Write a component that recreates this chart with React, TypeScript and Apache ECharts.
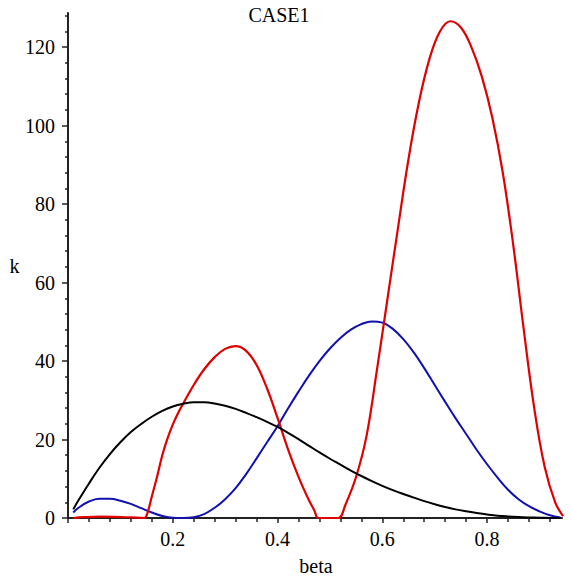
import React, { useEffect, useRef } from "react";
import * as echarts from "echarts";

// ---- data ----
const betaBlack = [0.01, 0.02, 0.04, 0.06, 0.08, 0.10, 0.12, 0.14, 0.16, 0.18, 0.20, 0.22, 0.24, 0.26, 0.28, 0.30, 0.32, 0.34, 0.36, 0.38, 0.40, 0.42, 0.44, 0.46, 0.48, 0.50, 0.52, 0.54, 0.56, 0.58, 0.60, 0.62, 0.64, 0.66, 0.68, 0.70, 0.72, 0.74, 0.76, 0.78, 0.80, 0.82, 0.84, 0.86, 0.88, 0.90, 0.92, 0.94];
const kBlack = [2.2, 4.5, 8.8, 12.8, 16.3, 19.3, 21.9, 24.0, 25.8, 27.3, 28.4, 29.1, 29.5, 29.5, 29.2, 28.6, 27.8, 26.8, 25.7, 24.5, 23.2, 21.7, 20.1, 18.4, 16.7, 15.1, 13.6, 12.1, 10.7, 9.4, 8.2, 7.1, 6.1, 5.2, 4.3, 3.5, 2.8, 2.2, 1.7, 1.25, 0.9, 0.6, 0.4, 0.25, 0.15, 0.08, 0.03, 0];

const betaBlue = [0.01, 0.02, 0.04, 0.06, 0.08, 0.10, 0.12, 0.14, 0.16, 0.18, 0.20, 0.22, 0.24, 0.26, 0.28, 0.30, 0.32, 0.34, 0.36, 0.38, 0.40, 0.42, 0.44, 0.46, 0.48, 0.50, 0.52, 0.54, 0.56, 0.58, 0.60, 0.62, 0.64, 0.66, 0.68, 0.70, 0.72, 0.74, 0.76, 0.78, 0.80, 0.82, 0.84, 0.86, 0.88, 0.90, 0.92, 0.94];
const kBlue = [1.4, 2.6, 4.2, 4.9, 4.9, 4.4, 3.6, 2.5, 1.4, 0.5, 0.05, 0, 0.2, 1.0, 2.6, 4.8, 7.6, 11.2, 15.2, 19.3, 23.4, 27.9, 32.2, 36.3, 40.0, 43.2, 45.9, 48.0, 49.4, 50.1, 49.8, 48.2, 45.6, 42.2, 38.2, 33.9, 29.6, 25.4, 21.4, 17.4, 13.7, 10.3, 7.2, 4.8, 3.0, 1.7, 0.7, 0.1];

const betaRed = [0.01, 0.03, 0.06, 0.09, 0.12, 0.145, 0.15, 0.16, 0.17, 0.18, 0.19, 0.20, 0.21, 0.22, 0.24, 0.26, 0.28, 0.30, 0.32, 0.34, 0.36, 0.38, 0.40, 0.42, 0.44, 0.46, 0.47, 0.478, 0.50, 0.516, 0.53, 0.55, 0.57, 0.59, 0.61, 0.63, 0.65, 0.67, 0.69, 0.71, 0.73, 0.75, 0.77, 0.79, 0.81, 0.83, 0.85, 0.87, 0.89, 0.91, 0.93, 0.945];
const kRed = [0, 0.2, 0.35, 0.3, 0.15, 0, 0.6, 5.5, 10.5, 16.0, 20.3, 23.8, 26.7, 29.2, 33.9, 37.9, 41.0, 43.1, 43.8, 42.6, 39.0, 33.0, 25.5, 17.5, 10.5, 4.5, 2.0, 0, 0, 0, 3.5, 10.5, 21, 38, 56, 74, 91.5, 106, 117, 124, 126.6, 125, 120, 112.5, 102, 88, 69.5, 48, 28, 13, 4, 0.5];

const yTickValues = [0, 20, 40, 60, 80, 100, 120];
const xTickValues = [0, 0.2, 0.4, 0.6, 0.8];
const xLabelValues = [0.2, 0.4, 0.6, 0.8];
const titleText = "CASE1";
const xName = "beta";
const yName = "k";

const pairs = (xs: number[], ys: number[]) => xs.map((x, i) => [x, ys[i]]);

export default function App() {
  const ref = useRef<HTMLDivElement>(null);
  useEffect(() => {
    document.body.style.margin = "0";
    const chart = echarts.init(ref.current!, null, { renderer: "svg" });
    const font = "'Liberation Serif', 'Times New Roman', serif";
    const axisColor = "#222";
    chart.setOption({
      animation: false,
      backgroundColor: "#fff",
      grid: { left: 68, right: 9, top: 13, bottom: 61, containLabel: false },
      xAxis: {
        type: "value",
        min: 0,
        max: 0.943,
        interval: 0.2,
        axisLine: { show: true, onZero: false, lineStyle: { color: axisColor, width: 2 } },
        axisTick: { show: true, length: 5, customValues: xTickValues, lineStyle: { color: axisColor, width: 1.5 } },
        minorTick: { show: true, splitNumber: 5, length: 4, lineStyle: { color: axisColor, width: 1.5 } },
        axisLabel: { customValues: xLabelValues, margin: 11, color: "#000", fontFamily: font, fontSize: 20, formatter: (v: number) => v.toFixed(1) },
        splitLine: { show: false },
        minorSplitLine: { show: false },
      },
      yAxis: {
        type: "value",
        min: 0,
        max: 128.7,
        interval: 20,
        axisLine: { show: true, onZero: false, lineStyle: { color: axisColor, width: 2 } },
        axisTick: { show: true, length: 6, customValues: yTickValues, lineStyle: { color: axisColor, width: 1.5 } },
        minorTick: { show: true, splitNumber: 5, length: 3, lineStyle: { color: axisColor, width: 1.5 } },
        axisLabel: { customValues: yTickValues, margin: 13, color: "#000", fontFamily: font, fontSize: 20 },
        splitLine: { show: false },
        minorSplitLine: { show: false },
      },
      graphic: [
        { type: "text", x: 279, y: 15, style: { text: titleText, font: `20px ${font}`, fill: "#000", align: "center", verticalAlign: "middle" } },
        { type: "text", x: 14.5, y: 266, style: { text: yName, font: `20px ${font}`, fill: "#000", align: "center", verticalAlign: "middle" } },
        { type: "text", x: 316, y: 566, style: { text: xName, font: `20px ${font}`, fill: "#000", align: "center", verticalAlign: "middle" } },
      ],
      series: [
        { type: "line", data: pairs(betaBlue, kBlue), smooth: 0.4, showSymbol: false, lineStyle: { color: "#1010b0", width: 2 }, z: 2 },
        { type: "line", data: pairs(betaRed, kRed), smooth: 0.4, showSymbol: false, lineStyle: { color: "#e00000", width: 2.2 }, z: 3 },
        { type: "line", data: pairs(betaBlack, kBlack), smooth: 0.4, showSymbol: false, lineStyle: { color: "#000", width: 2 }, z: 4 },
      ],
    });
    return () => chart.dispose();
  }, []);
  return <div ref={ref} style={{ position: "absolute", left: 0, top: 0, width: 571, height: 579 }} />;
}
